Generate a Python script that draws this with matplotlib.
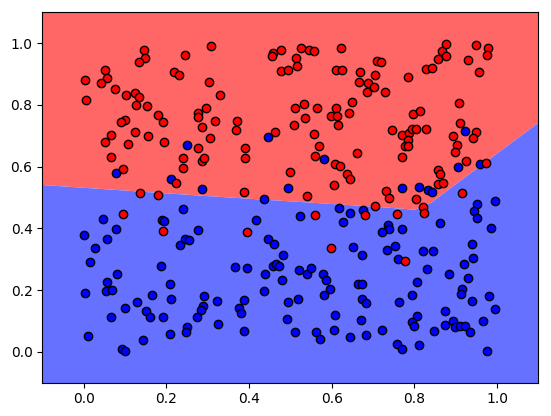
import matplotlib
matplotlib.use("Agg")
import matplotlib.pyplot as plt
import numpy as np

# Decision boundary (class 1 / red above, class 0 / blue below)
boundary_x = [-0.1, 0.30, 0.70, 0.80, 0.84, 0.88, 1.1]
boundary_y = [0.542, 0.506, 0.472, 0.462, 0.485, 0.526, 0.745]

red_x = [0.146, 0.148, 0.133, 0.244, 0.052, 0.057, 0.042, 0.004, 0.006, 0.076,
         0.103, 0.125, 0.135, 0.127, 0.154, 0.218, 0.231, 0.302, 0.308, 0.180,
         0.193, 0.101, 0.090, 0.277, 0.276, 0.297, 0.285, 0.305, 0.065, 0.051,
         0.108, 0.123, 0.156, 0.195, 0.276, 0.065, 0.240, 0.286, 0.290, 0.241,
         0.094, 0.223, 0.136, 0.180,
         0.330, 0.317, 0.371, 0.368, 0.389, 0.391, 0.387, 0.463, 0.458, 0.456,
         0.478, 0.513, 0.525, 0.545, 0.557, 0.478, 0.493, 0.517, 0.622, 0.611,
         0.624, 0.668, 0.667, 0.688, 0.685, 0.511, 0.534, 0.565, 0.536, 0.509,
         0.611, 0.599, 0.613, 0.641, 0.650, 0.615, 0.556, 0.570, 0.560, 0.609,
         0.619, 0.661, 0.637, 0.645, 0.606, 0.499, 0.540,
         0.709, 0.719, 0.705, 0.702, 0.729, 0.785, 0.828, 0.843, 0.856, 0.867,
         0.877, 0.877, 0.949, 0.979, 0.975, 0.930, 0.955, 0.907, 0.796, 0.813,
         0.745, 0.769, 0.787, 0.793, 0.803, 0.827, 0.785, 0.778, 0.785, 0.771,
         0.910, 0.893, 0.950, 0.942, 0.903, 0.897, 0.925, 0.972, 0.858, 0.861,
         0.856, 0.868, 0.732, 0.738, 0.803, 0.916,
         0.094, 0.191, 0.560, 0.396, 0.599, 0.681, 0.705, 0.821, 0.822, 0.757,
         0.778]
red_y = [0.978, 0.953, 0.938, 0.961, 0.912, 0.886, 0.871, 0.880, 0.817, 0.852,
         0.832, 0.839, 0.825, 0.801, 0.795, 0.907, 0.896, 0.875, 0.991, 0.766,
         0.745, 0.751, 0.744, 0.775, 0.761, 0.789, 0.727, 0.692, 0.702, 0.679,
         0.674, 0.713, 0.699, 0.680, 0.660, 0.632, 0.628, 0.619, 0.628, 0.595,
         0.592, 0.546, 0.513, 0.508,
         0.833, 0.747, 0.747, 0.719, 0.661, 0.628, 0.518, 0.712, 0.969, 0.959,
         0.977, 0.953, 0.985, 0.978, 0.974, 0.911, 0.913, 0.926, 0.984, 0.912,
         0.912, 0.907, 0.875, 0.870, 0.843, 0.790, 0.803, 0.789, 0.759, 0.736,
         0.791, 0.764, 0.764, 0.773, 0.808, 0.734, 0.705, 0.668, 0.635, 0.608,
         0.601, 0.643, 0.576, 0.560, 0.539, 0.582, 0.505,
         0.942, 0.938, 0.896, 0.857, 0.842, 0.891, 0.915, 0.921, 0.950, 0.974,
         0.996, 0.958, 0.993, 0.984, 0.963, 0.945, 0.907, 0.807, 0.771, 0.780,
         0.719, 0.701, 0.710, 0.722, 0.723, 0.723, 0.687, 0.666, 0.666, 0.632,
         0.742, 0.699, 0.713, 0.694, 0.671, 0.646, 0.617, 0.611, 0.589, 0.575,
         0.544, 0.548, 0.522, 0.499, 0.496, 0.513,
         0.445, 0.392, 0.444, 0.387, 0.336, 0.442, 0.472, 0.470, 0.450, 0.445,
         0.293]

blue_x = [0.249, 0.079, 0.212, 0.285, 0.447, 0.582, 0.495, 0.437, 0.922, 0.905,
          0.959, 0.769, 0.810, 0.832, 0.842, 0.996,
          0.241, 0.047, 0.190, 0.195, 0.079, 0.001, 0.056, 0.277, 0.244, 0.254,
          0.233, 0.028, 0.015, 0.188, 0.081, 0.056, 0.055, 0.068, 0.003, 0.210,
          0.165, 0.212, 0.129, 0.101, 0.151, 0.161, 0.192, 0.067, 0.292, 0.289,
          0.283, 0.274, 0.249, 0.248, 0.208, 0.143, 0.010, 0.092, 0.100,
          0.418, 0.524, 0.617, 0.645, 0.675, 0.628, 0.446, 0.460, 0.481, 0.367,
          0.394, 0.458, 0.466, 0.473, 0.439, 0.479, 0.520, 0.540, 0.550, 0.578,
          0.587, 0.596, 0.582, 0.651, 0.674, 0.663, 0.673, 0.673, 0.683, 0.435,
          0.518, 0.495, 0.322, 0.388, 0.376, 0.380, 0.324, 0.387, 0.491, 0.512,
          0.561, 0.571, 0.608, 0.605, 0.643, 0.671, 0.683,
          0.951, 0.943, 0.951, 0.862, 0.985, 0.737, 0.738, 0.722, 0.770, 0.753,
          0.733, 0.821, 0.844, 0.938, 0.941, 0.921, 0.761, 0.831, 0.884, 0.929,
          0.806, 0.915, 0.912, 0.795, 0.980, 0.939, 0.762, 0.996, 0.874, 0.805,
          0.793, 0.800, 0.894, 0.873, 0.898, 0.910, 0.923, 0.935, 0.965, 0.847,
          0.721, 0.758, 0.769, 0.810, 0.976]
blue_y = [0.671, 0.578, 0.561, 0.527, 0.695, 0.624, 0.530, 0.494, 0.714, 0.600,
          0.608, 0.531, 0.535, 0.524, 0.518, 0.489,
          0.463, 0.431, 0.426, 0.423, 0.399, 0.379, 0.366, 0.394, 0.366, 0.361,
          0.345, 0.335, 0.292, 0.279, 0.253, 0.227, 0.196, 0.199, 0.190, 0.220,
          0.184, 0.172, 0.160, 0.141, 0.131, 0.112, 0.112, 0.113, 0.181, 0.148,
          0.135, 0.113, 0.079, 0.064, 0.057, 0.037, 0.052, 0.009, 0.003,
          0.428, 0.441, 0.467, 0.451, 0.459, 0.420, 0.364, 0.350, 0.314, 0.276,
          0.270, 0.279, 0.284, 0.278, 0.251, 0.232, 0.266, 0.252, 0.270, 0.251,
          0.231, 0.204, 0.184, 0.338, 0.313, 0.219, 0.219, 0.172, 0.159, 0.198,
          0.171, 0.160, 0.165, 0.167, 0.143, 0.125, 0.091, 0.068, 0.107, 0.065,
          0.064, 0.041, 0.119, 0.069, 0.047, 0.103, 0.054,
          0.479, 0.455, 0.432, 0.417, 0.400, 0.411, 0.397, 0.389, 0.397, 0.344,
          0.329, 0.327, 0.327, 0.349, 0.303, 0.283, 0.300, 0.269, 0.252, 0.240,
          0.226, 0.203, 0.186, 0.185, 0.181, 0.163, 0.161, 0.137, 0.133, 0.115,
          0.096, 0.083, 0.099, 0.086, 0.081, 0.084, 0.084, 0.064, 0.100, 0.067,
          0.071, 0.024, 0.009, 0.021, 0.003]

xlim = (-0.1, 1.1)
ylim = (-0.1, 1.1)

fig = plt.figure(figsize=(5.51, 4.16), dpi=100)
ax = fig.add_axes([0.0768, 0.0803, 0.9005, 0.8899])

ax.fill_between(boundary_x, boundary_y, ylim[1], color='#ff6666', linewidth=0, zorder=0)
ax.fill_between(boundary_x, ylim[0], boundary_y, color='#6672ff', linewidth=0, zorder=0)

ax.scatter(blue_x, blue_y, c='blue', s=36, edgecolors='k', linewidths=1, zorder=2)
ax.scatter(red_x, red_y, c='red', s=36, edgecolors='k', linewidths=1, zorder=2)

ax.set_xlim(*xlim)
ax.set_ylim(*ylim)
ax.set_xticks([0.0, 0.2, 0.4, 0.6, 0.8, 1.0])
ax.set_yticks([0.0, 0.2, 0.4, 0.6, 0.8, 1.0])

fig.savefig("out.png", dpi=100)
